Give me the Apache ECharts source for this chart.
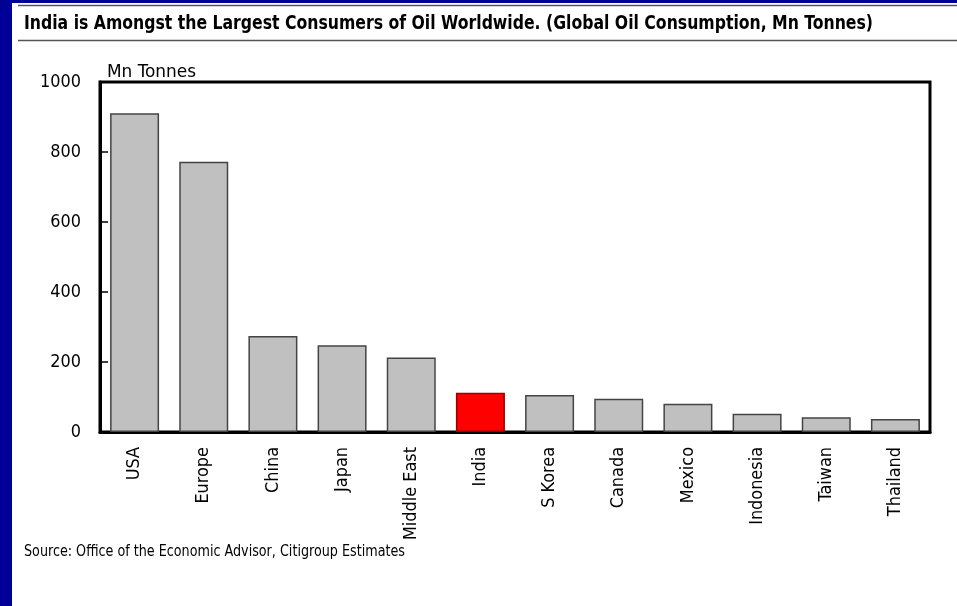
<!DOCTYPE html>
<html>
<head>
<meta charset="utf-8">
<script src="https://cdn.jsdelivr.net/npm/echarts@6/dist/echarts.min.js"></script>
<style>
html,body{margin:0;padding:0;background:#000099;}
#c{width:957px;height:606px;}
</style>
</head>
<body>
<div id="c"></div>
<script>
var categories = ['USA','Europe','China','Japan','Middle East','India','S Korea','Canada','Mexico','Indonesia','Taiwan','Thailand'];
var consumption = [911, 772, 274, 248, 213, 112, 106, 95, 81, 52, 42, 37];
var highlight = 'India';
var yTicks = [0, 200, 400, 600, 800, 1000];
var titleText = 'India is Amongst the Largest Consumers of Oil Worldwide. (Global Oil Consumption, Mn Tonnes)';
var unitText = 'Mn Tonnes';
var sourceText = 'Source: Office of the Economic Advisor, Citigroup Estimates';

// --- font selection: prefer a narrow sans, otherwise size down a regular one
var cv = document.createElement('canvas').getContext('2d');
function mw(font, s) { cv.font = font; return cv.measureText(s).width; }
var sample = 'Middle East Indonesia 1000 Worldwide';
function hasFont(c) {
  var a = mw('100px ' + c + ', monospace', sample), b = mw('100px monospace', sample);
  var a2 = mw('100px ' + c + ', serif', sample), b2 = mw('100px serif', sample);
  return Math.abs(a - b) > 1 && Math.abs(a2 - b2) > 1;
}
var FONT = "'Liberation Sans', Arial, sans-serif";
var STRETCH = '';
var found = false;
var narrowNames = ["'Liberation Sans Narrow'", "'Arial Narrow'", "'DejaVu Sans Condensed'", "'Roboto Condensed'", "'Open Sans Condensed'", "'Noto Sans Condensed'"];
for (var k = 0; k < narrowNames.length && !found; k++) {
  if (hasFont(narrowNames[k])) { FONT = narrowNames[k] + ", 'Liberation Sans', sans-serif"; found = true; }
}
if (!found) {
  var stretchable = ["'Noto Sans'", "'Open Sans'", "'Roboto'", "'DejaVu Sans'", "'Inter'", "'Liberation Sans'"];
  for (var j = 0; j < stretchable.length && !found; j++) {
    var f = stretchable[j];
    if (!hasFont(f)) continue;
    var n = mw('100px ' + f, sample), cd = mw('condensed 100px ' + f, sample);
    if (cd < n * 0.92) { FONT = f + ", sans-serif"; STRETCH = 'condensed'; found = true; }
  }
}
var PRE = STRETCH ? STRETCH + ' ' : '';
// size so that "Middle East" spans ~93px and "1000" ~41px (as in the reference)
var LABEL_SIZE = Math.min(22, Math.round(93 / mw(PRE + '100px ' + FONT, 'Middle East') * 1000) / 10);
var YLABEL_SIZE = Math.min(22, Math.round(41 / mw(PRE + '100px ' + FONT, '1000') * 1000) / 10);

function fitScale(font, text, target) { return target / mw(font, text); }

var titleFont = PRE + 'bold 19px ' + FONT;
var unitFont = PRE + LABEL_SIZE + 'px ' + FONT;
var srcFont = PRE + '15px ' + FONT;

var chart = echarts.init(document.getElementById('c'), null, {renderer: 'canvas'});

var barData = consumption.map(function (v, i) {
  var isHi = categories[i] === highlight;
  return {
    value: v,
    itemStyle: isHi ? {color: '#ff0000', borderColor: '#990000', borderWidth: 1.5}
                    : {color: '#c0c0c0', borderColor: '#444444', borderWidth: 1.5}
  };
});

var labelStyleBase = {color: '#000', fontFamily: FONT};
if (STRETCH) labelStyleBase.fontStyle = STRETCH;

var option = {
  backgroundColor: '#000099',
  animation: false,
  graphic: [
    {type: 'rect', z: -100, shape: {x: 12, y: 3, width: 945, height: 603}, style: {fill: '#ffffff'}},
    {type: 'line', z: 10, shape: {x1: 18, y1: 5.5, x2: 957, y2: 5.5}, style: {stroke: '#555555', lineWidth: 1.5}},
    {type: 'line', z: 10, shape: {x1: 18, y1: 40.5, x2: 957, y2: 40.5}, style: {stroke: '#555555', lineWidth: 1.5}},
    {type: 'text', z: 10, x: 24, y: 24, scaleX: fitScale(titleFont, titleText, 849),
      style: {text: titleText, font: titleFont, fill: '#000', verticalAlign: 'middle', textVerticalAlign: 'middle'}},
    {type: 'text', z: 10, x: 107, y: 72, scaleX: fitScale(unitFont, unitText, 89),
      style: {text: unitText, font: unitFont, fill: '#000', verticalAlign: 'middle', textVerticalAlign: 'middle'}},
    {type: 'text', z: 10, x: 24, y: 552, scaleX: fitScale(srcFont, sourceText, 381),
      style: {text: sourceText, font: srcFont, fill: '#000', verticalAlign: 'middle', textVerticalAlign: 'middle'}}
  ],
  grid: {
    left: 100, right: 27, top: 82, bottom: 174,
    show: true, borderColor: '#000', borderWidth: 3, backgroundColor: 'transparent'
  },
  xAxis: {
    type: 'category',
    data: categories,
    axisLine: {show: true, lineStyle: {color: '#000', width: 3}},
    axisTick: {show: false},
    axisLabel: Object.assign({rotate: 90, margin: 15, fontSize: LABEL_SIZE, interval: 0}, labelStyleBase)
  },
  yAxis: {
    type: 'value',
    min: yTicks[0], max: yTicks[yTicks.length - 1], interval: yTicks[1] - yTicks[0],
    axisLine: {show: true, lineStyle: {color: '#000', width: 3}},
    axisTick: {show: true, inside: true, length: 8, lineStyle: {color: '#000', width: 1.5}},
    splitLine: {show: false},
    axisLabel: Object.assign({margin: 19, fontSize: YLABEL_SIZE, formatter: function (v) { return String(v); }}, labelStyleBase)
  },
  series: [{
    type: 'bar',
    data: barData,
    barWidth: 49
  }]
};
chart.setOption(option);
</script>
</body>
</html>
